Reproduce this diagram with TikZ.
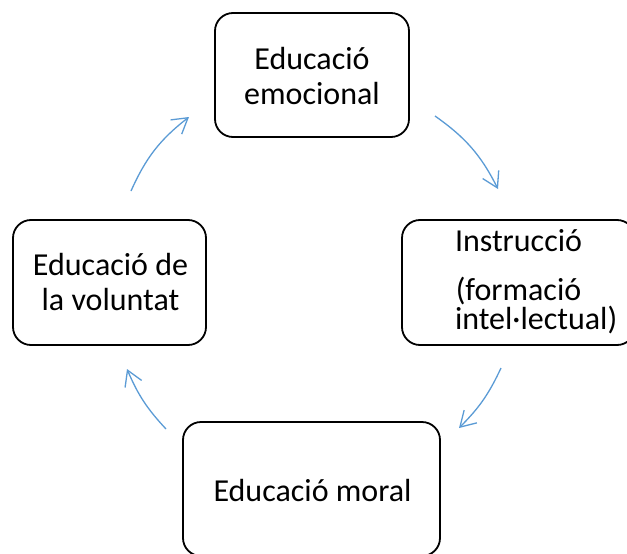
\documentclass[tikz,border=0pt]{standalone}
\usepackage{fontspec}
\setmainfont{Carlito}
\usetikzlibrary{arrows.meta}
\definecolor{arrowblue}{HTML}{5B9BD5}
\begin{document}
\begin{tikzpicture}[x=1pt,y=-1pt,
  box/.style={draw=black, line width=1.8pt, rounded corners=18pt, inner sep=0pt},
  boxtext/.style={font=\fontsize{32}{35}\selectfont, inner sep=0pt, align=center, text=black},
  link/.style={draw=arrowblue, line width=1.3pt, -{Straight Barb[length=15pt,width=18pt]}}]
\useasboundingbox (0,0) rectangle (627,554);
% boxes
\node[box, minimum width=194pt, minimum height=124pt] (emo) at (312,75) {};
\node[boxtext] (emoT) at ([yshift=-1pt]emo.center) {Educació\\emocional};
\node[box, minimum width=233pt, minimum height=125pt] (ins) at (518.5,282.5) {};
\node[boxtext] (insT) at ([yshift=1pt]ins.center) {Instrucció\\[14pt](formació\\[-6pt]\makebox[127pt][l]{intel·lectual)}};
\node[box, minimum width=257pt, minimum height=134pt] (mor) at (311.5,489) {};
\node[boxtext] (morT) at ([xshift=1pt,yshift=-1.5pt]mor.center) {Educació moral};
\node[box, minimum width=193pt, minimum height=125pt] (vol) at (109.5,282.5) {};
\node[boxtext] (volT) at ([xshift=1pt]vol.center) {Educació de\\la voluntat};
% arrow ends
\coordinate (a1s) at (435,116);
\coordinate (a1e) at (498,189);
\coordinate (a2s) at (501,368);
\coordinate (a2e) at (459,428);
\coordinate (a3s) at (166,429);
\coordinate (a3e) at (127,369);
\coordinate (a4s) at (131,191);
\coordinate (a4e) at (189,117);
\draw[link] (a1s) to[bend left=14] (a1e);
\draw[link] (a2s) to[bend left=10] (a2e);
\draw[link] (a3s) to[bend left=10] (a3e);
\draw[link] (a4s) to[bend left=14] (a4e);
\end{tikzpicture}
\end{document}
